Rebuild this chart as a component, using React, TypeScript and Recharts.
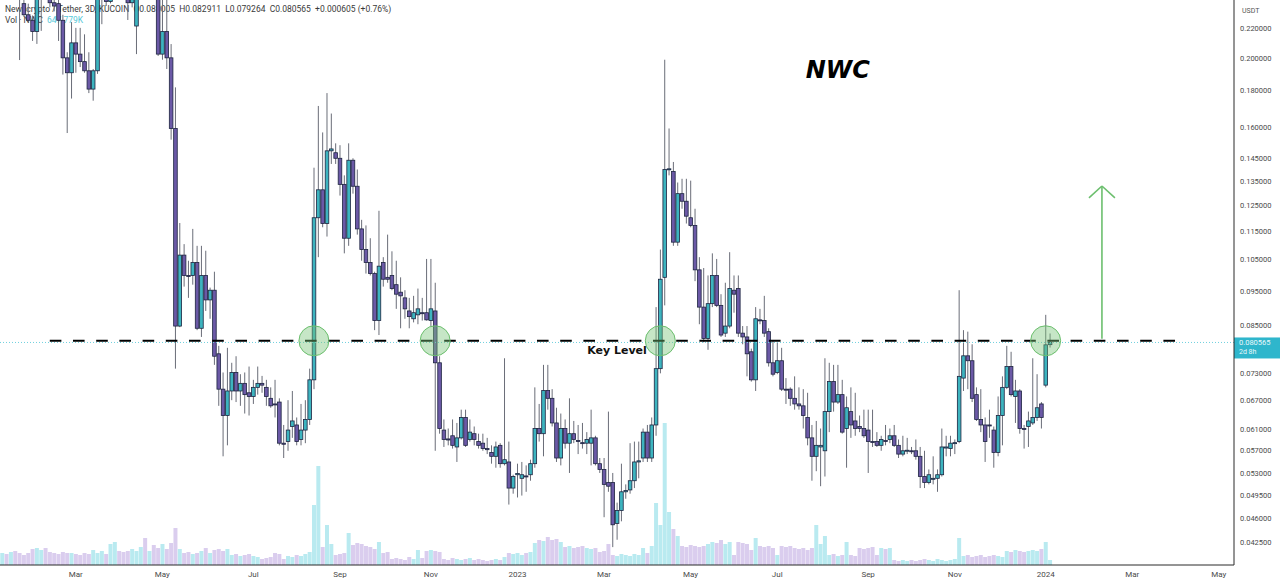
import React from "react";
import { ComposedChart, Bar, XAxis, YAxis, ReferenceLine, ReferenceDot, Cell } from "recharts";

// ---------- data ----------
const START_DATE = Date.UTC(2022, 0, 8); // first 3-day candle
const SLOT_DAYS = 3;
const TOTAL_SLOTS = 285; // candles + empty space on the right
const MONTH_NAMES = ["Jan", "Feb", "Mar", "Apr", "May", "Jun", "Jul", "Aug", "Sep", "Oct", "Nov", "Dec"];
const PRICE_TICKS = [0.22, 0.2, 0.18, 0.16, 0.145, 0.135, 0.125, 0.115, 0.105, 0.095, 0.085, 0.073, 0.067, 0.061, 0.057, 0.053, 0.0495, 0.046, 0.0425];

const OPEN = [
  0.262, 0.270, 0.258, 0.275, 0.262, 0.2378, 0.2295, 0.2255, 0.2175, 0.255,
  0.265, 0.258, 0.2385, 0.2378, 0.2255, 0.2000, 0.1907, 0.2098, 0.2024, 0.1976,
  0.1919, 0.1810, 0.1919, 0.255, 0.245, 0.2395, 0.258, 0.272, 0.262, 0.250,
  0.2385, 0.2214, 0.252, 0.266, 0.258, 0.268, 0.256, 0.2024, 0.2175, 0.2000,
  0.1596, 0.0849, 0.1065, 0.0998, 0.0998, 0.1040, 0.0843, 0.0998, 0.0923, 0.0952,
  0.0777, 0.0694, 0.0638, 0.0690, 0.0732, 0.0690, 0.0707, 0.0686, 0.0678, 0.0698,
  0.0707, 0.0698, 0.0674, 0.0662, 0.0666, 0.0584, 0.0587, 0.0616, 0.0619, 0.0591,
  0.0609, 0.0630, 0.0715, 0.1200, 0.1312, 0.1178, 0.1486, 0.1477, 0.1451, 0.1335,
  0.1124, 0.1442, 0.1327, 0.1158, 0.1084, 0.1040, 0.1004, 0.0864, 0.1040, 0.0992,
  0.0998, 0.0969, 0.0946, 0.0929, 0.0891, 0.0869, 0.0880, 0.0886, 0.0886, 0.0864,
  0.0891, 0.0755, 0.0609, 0.0592, 0.0598, 0.0577, 0.0594, 0.0634, 0.0591, 0.0602,
  0.0587, 0.0584, 0.0574, 0.0567, 0.0560, 0.0580, 0.0547, 0.0550, 0.0506, 0.0528,
  0.0522, 0.0526, 0.0528, 0.0547, 0.0612, 0.0602, 0.0691, 0.0674, 0.0623, 0.0557,
  0.0612, 0.0584, 0.0602, 0.0589, 0.0585, 0.0584, 0.0584, 0.0594, 0.0547, 0.0537,
  0.0515, 0.0515, 0.0452, 0.0471, 0.0500, 0.0503, 0.0518, 0.0550, 0.0557, 0.0605,
  0.0557, 0.0619, 0.0741, 0.0992, 0.1400, 0.1391, 0.1110, 0.1296, 0.1265, 0.1200,
  0.1171, 0.1016, 0.0902, 0.0816, 0.0912, 0.0998, 0.0907, 0.0830, 0.0849, 0.0952,
  0.0957, 0.0830, 0.0820, 0.0782, 0.0715, 0.0866, 0.0864, 0.0834, 0.0755, 0.0732,
  0.0760, 0.0694, 0.0694, 0.0674, 0.0662, 0.0658, 0.0634, 0.0594, 0.0560, 0.0577,
  0.0570, 0.0646, 0.0711, 0.0666, 0.0682, 0.0612, 0.0646, 0.0627, 0.0616, 0.0612,
  0.0609, 0.0587, 0.0587, 0.0580, 0.0589, 0.0591, 0.0598, 0.0580, 0.0564, 0.0570,
  0.0570, 0.0570, 0.0560, 0.0525, 0.0515, 0.0521, 0.0522, 0.0528, 0.0575, 0.0574,
  0.0584, 0.0587, 0.0719, 0.0772, 0.0760, 0.0682, 0.0630, 0.0619, 0.0619, 0.0609,
  0.0567, 0.0638, 0.0698, 0.0746, 0.0678, 0.0690, 0.0612, 0.0616, 0.0623, 0.0634,
  0.0662, 0.0703, 0.080005,
];

const HIGH = [
  0.285, 0.292, 0.280, 0.300, 0.280, 0.250, 0.2378, 0.229, 0.262, 0.275,
  0.285, 0.270, 0.2425, 0.245, 0.2295, 0.2036, 0.2242, 0.2201, 0.2201, 0.2156,
  0.2036, 0.1930, 0.262, 0.275, 0.255, 0.265, 0.280, 0.290, 0.276, 0.258,
  0.262, 0.265, 0.272, 0.285, 0.275, 0.282, 0.268, 0.252, 0.245, 0.209,
  0.182, 0.118, 0.1103, 0.1046, 0.1158, 0.1097, 0.1097, 0.1080, 0.0960, 0.1010,
  0.0797, 0.0732, 0.0792, 0.0755, 0.0771, 0.0728, 0.0732, 0.0746, 0.0715, 0.0746,
  0.0724, 0.0715, 0.0698, 0.0715, 0.0674, 0.0619, 0.0670, 0.0690, 0.0634, 0.0662,
  0.0670, 0.0741, 0.1408, 0.1715, 0.1576, 0.1787, 0.1674, 0.1522, 0.1513, 0.1374,
  0.1522, 0.1451, 0.1400, 0.1192, 0.1171, 0.1124, 0.1010, 0.1227, 0.1058, 0.1137,
  0.1078, 0.1046, 0.0992, 0.0952, 0.0929, 0.0935, 0.0957, 0.0929, 0.1052, 0.1052,
  0.0975, 0.0771, 0.0630, 0.0612, 0.0630, 0.0623, 0.0650, 0.0650, 0.0630, 0.0616,
  0.0602, 0.0602, 0.0594, 0.0580, 0.0587, 0.0584, 0.0766, 0.0587, 0.0528, 0.0547,
  0.0550, 0.0544, 0.0554, 0.0698, 0.0662, 0.0750, 0.0750, 0.0694, 0.0654, 0.0642,
  0.0630, 0.0674, 0.0627, 0.0619, 0.0623, 0.0605, 0.0650, 0.0598, 0.0557, 0.0557,
  0.0646, 0.0531, 0.0483, 0.0547, 0.0512, 0.0584, 0.0587, 0.0587, 0.0612, 0.0619,
  0.0634, 0.0902, 0.1084, 0.1988, 0.1596, 0.1434, 0.1343, 0.1359, 0.1359, 0.1351,
  0.1235, 0.1058, 0.1022, 0.0998, 0.1071, 0.1052, 0.0940, 0.0975, 0.1075, 0.0998,
  0.0998, 0.0849, 0.0849, 0.0790, 0.0902, 0.0897, 0.0935, 0.0843, 0.0810, 0.0806,
  0.0792, 0.0719, 0.0698, 0.0723, 0.0698, 0.0694, 0.0686, 0.0619, 0.0627, 0.0612,
  0.0766, 0.0755, 0.0750, 0.0750, 0.0715, 0.0678, 0.0698, 0.0686, 0.0638, 0.0650,
  0.0650, 0.0650, 0.0605, 0.0598, 0.0619, 0.0612, 0.0619, 0.0591, 0.0598, 0.0594,
  0.0577, 0.0591, 0.0577, 0.0570, 0.0537, 0.0560, 0.0537, 0.0612, 0.0598, 0.0598,
  0.0591, 0.0952, 0.0838, 0.0834, 0.0801, 0.0698, 0.0694, 0.0634, 0.0650, 0.0616,
  0.0678, 0.0723, 0.0797, 0.0782, 0.0715, 0.0694, 0.0619, 0.0646, 0.0766, 0.0728,
  0.0666, 0.0880, 0.082911,
];

const LOW = [
  0.248, 0.255, 0.246, 0.262, 0.1986, 0.228, 0.224, 0.2111, 0.2091, 0.218,
  0.250, 0.235, 0.232, 0.2111, 0.1896, 0.1573, 0.1756, 0.1907, 0.1942, 0.1907,
  0.1787, 0.1744, 0.1900, 0.2227, 0.236, 0.238, 0.248, 0.256, 0.246, 0.2257,
  0.235, 0.2024, 0.245, 0.254, 0.248, 0.252, 0.2012, 0.1988, 0.193, 0.154,
  0.0741, 0.0846, 0.0963, 0.0929, 0.0969, 0.0838, 0.0820, 0.0891, 0.0869, 0.0750,
  0.0658, 0.0560, 0.0580, 0.0670, 0.0666, 0.0658, 0.0642, 0.0638, 0.0662, 0.0682,
  0.0686, 0.0658, 0.0654, 0.0634, 0.0580, 0.0557, 0.0570, 0.0594, 0.0580, 0.0580,
  0.0584, 0.0619, 0.0694, 0.1058, 0.1164, 0.1130, 0.1425, 0.1425, 0.1288, 0.1071,
  0.1097, 0.1296, 0.1137, 0.1046, 0.1004, 0.0998, 0.0838, 0.0825, 0.0963, 0.0975,
  0.0952, 0.0897, 0.0843, 0.0869, 0.0843, 0.0859, 0.0854, 0.0864, 0.0864, 0.0849,
  0.0570, 0.0602, 0.0577, 0.0580, 0.0574, 0.0550, 0.0591, 0.0577, 0.0587, 0.0580,
  0.0574, 0.0570, 0.0564, 0.0547, 0.0540, 0.0540, 0.0544, 0.0480, 0.0497, 0.0491,
  0.0494, 0.0500, 0.0518, 0.0540, 0.0587, 0.0560, 0.0650, 0.0616, 0.0550, 0.0544,
  0.0574, 0.0531, 0.0584, 0.0564, 0.0574, 0.0564, 0.0544, 0.0544, 0.0531, 0.0461,
  0.0500, 0.0419, 0.0429, 0.0455, 0.0489, 0.0497, 0.0506, 0.0522, 0.0550, 0.0550,
  0.0550, 0.0598, 0.0730, 0.0907, 0.1374, 0.1097, 0.1097, 0.1235, 0.1178, 0.1164,
  0.0980, 0.0854, 0.0806, 0.0787, 0.0902, 0.0902, 0.0820, 0.0820, 0.0843, 0.0886,
  0.0820, 0.0801, 0.0723, 0.0711, 0.0690, 0.0854, 0.0820, 0.0746, 0.0723, 0.0728,
  0.0690, 0.0662, 0.0658, 0.0650, 0.0650, 0.0612, 0.0580, 0.0518, 0.0534, 0.0509,
  0.0525, 0.0605, 0.0646, 0.0662, 0.0602, 0.0540, 0.0594, 0.0598, 0.0605, 0.0594,
  0.0531, 0.0577, 0.0577, 0.0570, 0.0580, 0.0584, 0.0577, 0.0557, 0.0560, 0.0564,
  0.0564, 0.0554, 0.0506, 0.0506, 0.0512, 0.0512, 0.0500, 0.0525, 0.0560, 0.0560,
  0.0564, 0.0584, 0.0690, 0.0694, 0.0666, 0.0627, 0.0605, 0.0550, 0.0594, 0.0540,
  0.0560, 0.0580, 0.0694, 0.0678, 0.0623, 0.0602, 0.0574, 0.0577, 0.0619, 0.0627,
  0.0612, 0.0698, 0.079264,
];

const CLOSE = [
  0.270, 0.258, 0.275, 0.266, 0.245, 0.2295, 0.2255, 0.2175, 0.255, 0.265,
  0.258, 0.2385, 0.2360, 0.2255, 0.2000, 0.1907, 0.2098, 0.2024, 0.1976, 0.1919,
  0.1810, 0.1919, 0.255, 0.262, 0.2395, 0.258, 0.272, 0.262, 0.250, 0.2385,
  0.255, 0.252, 0.266, 0.258, 0.268, 0.256, 0.2024, 0.2175, 0.2000, 0.1596,
  0.0849, 0.1065, 0.0998, 0.0995, 0.1040, 0.0843, 0.0998, 0.0923, 0.0952, 0.0771,
  0.0694, 0.0638, 0.0690, 0.0732, 0.0690, 0.0707, 0.0682, 0.0678, 0.0698, 0.0707,
  0.0703, 0.0678, 0.0658, 0.0660, 0.0584, 0.0582, 0.0609, 0.0627, 0.0587, 0.0609,
  0.0630, 0.0715, 0.1200, 0.1312, 0.1178, 0.1486, 0.1495, 0.1451, 0.1335, 0.1124,
  0.1442, 0.1327, 0.1158, 0.1084, 0.1040, 0.1004, 0.0864, 0.1028, 0.0986, 0.0986,
  0.0957, 0.0940, 0.0935, 0.0897, 0.0875, 0.0886, 0.0897, 0.0884, 0.0866, 0.0897,
  0.0755, 0.0612, 0.0591, 0.0590, 0.0580, 0.0594, 0.0634, 0.0580, 0.0605, 0.0591,
  0.0580, 0.0574, 0.0572, 0.0560, 0.0577, 0.0547, 0.0554, 0.0506, 0.0525, 0.0530,
  0.0528, 0.0525, 0.0547, 0.0612, 0.0602, 0.0691, 0.0674, 0.0623, 0.0557, 0.0612,
  0.0584, 0.0602, 0.0591, 0.0587, 0.0584, 0.0591, 0.0594, 0.0547, 0.0537, 0.0512,
  0.0509, 0.0450, 0.0471, 0.0500, 0.0502, 0.0518, 0.0550, 0.0552, 0.0605, 0.0557,
  0.0619, 0.0741, 0.0986, 0.1400, 0.1403, 0.1110, 0.1296, 0.1265, 0.1206, 0.1171,
  0.1016, 0.0902, 0.0816, 0.0912, 0.0998, 0.0907, 0.0825, 0.0849, 0.0957, 0.0940,
  0.0830, 0.0820, 0.0777, 0.0715, 0.0869, 0.0864, 0.0830, 0.0755, 0.0728, 0.0760,
  0.0694, 0.0692, 0.0674, 0.0662, 0.0658, 0.0638, 0.0594, 0.0560, 0.0580, 0.0580,
  0.0646, 0.0711, 0.0666, 0.0682, 0.0605, 0.0654, 0.0619, 0.0612, 0.0612, 0.0598,
  0.0587, 0.0586, 0.0580, 0.0591, 0.0587, 0.0598, 0.0580, 0.0564, 0.0570, 0.0571,
  0.0569, 0.0560, 0.0525, 0.0515, 0.0528, 0.0522, 0.0528, 0.0577, 0.0577, 0.0584,
  0.0585, 0.0723, 0.0772, 0.0760, 0.0674, 0.0630, 0.0619, 0.0587, 0.0618, 0.0567,
  0.0638, 0.0698, 0.0746, 0.0682, 0.0690, 0.0612, 0.0611, 0.0627, 0.0634, 0.0654,
  0.0634, 0.07996, 0.080565,
];

// volume, thousands NWC
const VOLUME = [
  120, 110, 130, 140, 120, 100, 120, 160, 170, 150,
  170, 130, 120, 110, 130, 120, 120, 110, 100, 120,
  110, 150, 120, 140, 110, 210, 230, 140, 130, 140,
  160, 140, 180, 270, 140, 200, 170, 210, 160, 220,
  370, 160, 120, 130, 110, 120, 140, 170, 120, 150,
  160, 140, 160, 100, 110, 90, 100, 110, 90, 80,
  60, 70, 80, 120, 110, 60, 90, 80, 100, 90,
  110, 130, 600, 990, 180, 400, 210, 100, 110, 120,
  320, 200, 220, 210, 190, 180, 160, 230, 120, 130,
  60, 70, 60, 50, 80, 60, 150, 70, 140, 150,
  140, 130, 60, 50, 70, 60, 50, 60, 70, 50,
  60, 50, 40, 50, 60, 50, 80, 120, 110, 120,
  100, 120, 130, 220, 250, 240, 280, 250, 260, 230,
  180, 190, 170, 180, 190, 170, 160, 170, 130, 140,
  210, 100, 90, 110, 100, 90, 110, 100, 170, 120,
  190, 620, 400, 1420, 530, 360, 290, 190, 180, 200,
  190, 180, 190, 210, 230, 220, 250, 210, 230, 100,
  230, 220, 210, 150, 270, 190, 180, 190, 170, 100,
  190, 180, 190, 170, 160, 170, 150, 170, 400, 210,
  290, 100, 110, 90, 100, 230, 100, 90, 170, 160,
  170, 180, 100, 170, 160, 170, 50, 40, 50, 40,
  50, 40, 50, 60, 50, 40, 60, 50, 40, 50,
  60, 270, 90, 100, 80, 90, 100, 80, 90, 100,
  90, 80, 140, 130, 150, 140, 130, 140, 150, 140,
  160, 230, 50,
];

// annotations (data units)
const KEY_LEVEL = 0.081;
const LAST_PRICE = 0.080565;
const KEY_LINE_FROM = 11;
const KEY_LINE_TO = 272;
const BREAKOUT_SLOTS = [72, 100, 152, 241];
const KEY_LABEL_SLOT = 142;
const TITLE_SLOT = 193;
const TITLE_PRICE = 0.193;
const ARROW_SLOT = 254;
const ARROW_HEAD_LEFT = 251;
const ARROW_HEAD_RIGHT = 257;
const ARROW_BASE = 0.0815;
const ARROW_TIP = 0.1328;
const ARROW_HEAD_BASE = 0.1279;

// ---------- styles ----------
const UP = "#3db4bf";
const DOWN = "#6b59a6";
const BORDER = "#1d2440";
const WICK = "#6a6d78";
const VOL_UP = "#b9eaf0";
const VOL_DOWN = "#dacdee";
const AXIS = "#2b2b2b";
const TEXT = "#4a4a4a";
const GREEN = "#6cbf6e";

const DAY = 86400000;
const slotEndDate = (i: number) => new Date(START_DATE + (i * SLOT_DAYS + 2) * DAY);

const chartData = Array.from({ length: TOTAL_SLOTS }, (_, i) => {
  const has = i < OPEN.length;
  return {
    i,
    o: has ? OPEN[i] : null,
    h: has ? HIGH[i] : null,
    l: has ? LOW[i] : null,
    c: has ? CLOSE[i] : null,
    range: has ? [LOW[i], HIGH[i]] : null,
    v: has ? VOLUME[i] : null,
  };
});

const tickSlots: number[] = [];
for (let i = 1; i < TOTAL_SLOTS; i++) {
  const m = slotEndDate(i).getUTCMonth();
  if (m !== slotEndDate(i - 1).getUTCMonth() && m % 2 === 0) tickSlots.push(i);
}
const tickLabel = (i: number) => {
  const d = slotEndDate(i);
  const m = d.getUTCMonth();
  return m === 0 ? String(d.getUTCFullYear()) : MONTH_NAMES[m];
};

const Candle = (props: any) => {
  const { x, y, width, height, payload } = props;
  if (!payload || payload.o == null || !isFinite(y) || !isFinite(height)) return null;
  const top = Math.min(y, y + height);
  const bottom = Math.max(y, y + height);
  const lh = Math.log(payload.h);
  const ll = Math.log(payload.l);
  const span = lh - ll;
  const toY = (v: number) => (span > 0 ? top + ((lh - Math.log(v)) / span) * (bottom - top) : top);
  const up = payload.c >= payload.o;
  const yO = toY(payload.o);
  const yC = toY(payload.c);
  const bTop = Math.min(yO, yC);
  const bH = Math.max(1, Math.abs(yO - yC));
  const cx = x + width / 2;
  const bw = Math.min(3.6, width);
  return (
    <g>
      <line x1={cx} x2={cx} y1={top} y2={bottom} stroke={WICK} strokeWidth={1} />
      <rect x={cx - bw / 2} y={bTop} width={bw} height={bH} fill={up ? UP : DOWN} stroke={BORDER} strokeWidth={0.8} />
    </g>
  );
};

const PriceTag = (props: any) => {
  const vb = props.viewBox || {};
  const x0 = (vb.x || 0) + (vb.width || 0);
  const y0 = vb.y || 0;
  return (
    <g>
      <rect x={x0} y={y0 - 5} width={46} height={21} fill="#2fb6cc" />
      <text x={x0 + 5} y={y0 + 3} fontSize={7.5} fill="#eaf8fb">0.080565</text>
      <text x={x0 + 5} y={y0 + 12} fontSize={7} fill="#eaf8fb">2d 8h</text>
    </g>
  );
};

export default function App() {
  return (
    <div style={{ position: "absolute", left: 0, top: 0, width: 1280, height: 584, background: "#fff", overflow: "hidden", fontFamily: "Roboto, 'Open Sans', sans-serif" }}>
      <div style={{ position: "absolute", left: 5, top: 4, fontSize: 8.5, color: "#3a3a3a", whiteSpace: "pre", lineHeight: "11px" }}>
        <div>{"Newscrypto / Tether, 3D, KUCOIN  O0.080005  H0.082911  L0.079264  C0.080565  +0.000605 (+0.76%)"}</div>
        <div>
          <span>{"Vol · NWC  "}</span>
          <span style={{ color: "#56c8d8" }}>647.779K</span>
        </div>
      </div>
      <div style={{ position: "absolute", left: 1242, top: 7, fontSize: 7, color: "#555" }}>USDT</div>
      <div style={{ position: "absolute", left: 0, top: 0 }}>
        <ComposedChart width={1280} height={584} data={chartData} margin={{ top: 0, right: 0, bottom: 0, left: 0 }} barCategoryGap="6%" barGap={0}>
          <XAxis
            xAxisId="main"
            dataKey="i"
            type="category"
            ticks={tickSlots}
            interval={0}
            tickFormatter={tickLabel}
            height={19}
            axisLine={{ stroke: AXIS }}
            tickLine={false}
            tickSize={4}
            tickMargin={2}
            tick={{ fontSize: 8, fill: TEXT }}
          />
          <XAxis xAxisId="vol" dataKey="i" type="category" hide />
          <YAxis
            yAxisId="price"
            orientation="right"
            scale="log"
            domain={[0.039574, 0.24059]}
            allowDataOverflow
            ticks={PRICE_TICKS}
            interval={0}
            width={46}
            tickFormatter={(v: number) => v.toFixed(6)}
            axisLine={{ stroke: AXIS }}
            tickLine={false}
            tickSize={4}
            tickMargin={2}
            tick={{ fontSize: 7.5, fill: TEXT }}
          />
          <YAxis yAxisId="vol" hide domain={[0, 5650]} allowDataOverflow />
          <Bar xAxisId="vol" yAxisId="vol" dataKey="v" isAnimationActive={false}>
            {chartData.map((d) => (
              <Cell key={d.i} fill={d.c != null && d.o != null && d.c >= d.o ? VOL_UP : VOL_DOWN} />
            ))}
          </Bar>
          <ReferenceLine xAxisId="main" yAxisId="price" y={LAST_PRICE} stroke="#6fd0de" strokeDasharray="1 2" strokeWidth={1} label={<PriceTag />} />
          <Bar xAxisId="main" yAxisId="price" dataKey="range" isAnimationActive={false} shape={(p: any) => <Candle {...p} />} />
          {BREAKOUT_SLOTS.map((s) => (
            <ReferenceDot key={s} xAxisId="main" yAxisId="price" x={s} y={KEY_LEVEL} r={15} fill="rgba(120,196,120,0.42)" stroke={GREEN} strokeWidth={1} />
          ))}
          <ReferenceLine
            xAxisId="main"
            yAxisId="price"
            segment={[{ x: KEY_LINE_FROM, y: KEY_LEVEL }, { x: KEY_LINE_TO, y: KEY_LEVEL }]}
            stroke="#000"
            strokeWidth={2}
            strokeDasharray="11.6 11.6"
          />
          <ReferenceLine xAxisId="main" yAxisId="price" segment={[{ x: ARROW_SLOT, y: ARROW_BASE }, { x: ARROW_SLOT, y: ARROW_TIP }]} stroke={GREEN} strokeWidth={1.6} />
          <ReferenceLine xAxisId="main" yAxisId="price" segment={[{ x: ARROW_HEAD_LEFT, y: ARROW_HEAD_BASE }, { x: ARROW_SLOT, y: ARROW_TIP }]} stroke={GREEN} strokeWidth={1.6} />
          <ReferenceLine xAxisId="main" yAxisId="price" segment={[{ x: ARROW_HEAD_RIGHT, y: ARROW_HEAD_BASE }, { x: ARROW_SLOT, y: ARROW_TIP }]} stroke={GREEN} strokeWidth={1.6} />
          <ReferenceDot
            xAxisId="main"
            yAxisId="price"
            x={KEY_LABEL_SLOT}
            y={KEY_LEVEL}
            r={0}
            shape={(p: any) => (
              <text x={p.cx} y={p.cy + 13} textAnchor="middle" fontSize={11} fontWeight="bold" fill="#111" fontFamily="'DejaVu Sans', sans-serif">
                Key Level
              </text>
            )}
          />
          <ReferenceDot
            xAxisId="main"
            yAxisId="price"
            x={TITLE_SLOT}
            y={TITLE_PRICE}
            r={0}
            shape={(p: any) => (
              <text x={p.cx} y={p.cy + 9} textAnchor="middle" fontSize={24} fontWeight="bold" fontStyle="italic" fill="#000" fontFamily="'DejaVu Sans', sans-serif">
                NWC
              </text>
            )}
          />
        </ComposedChart>
      </div>
    </div>
  );
}
